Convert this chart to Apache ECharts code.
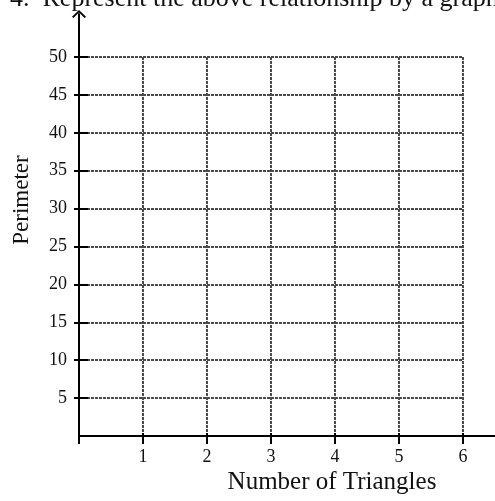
<!DOCTYPE html>
<html>
<head>
<meta charset="utf-8">
<script src="https://cdn.jsdelivr.net/npm/echarts@6/dist/echarts.min.js"></script>
<style>
  html, body { margin: 0; padding: 0; background: #fff; }
  #chart_box { width: 495px; height: 501px; }
</style>
</head>
<body>
<div id="chart_box"></div>
<script>
// tick values shown on the blank graph
let xTicks = [1, 2, 3, 4, 5, 6];
let yTicks = [5, 10, 15, 20, 25, 30, 35, 40, 45, 50];
// nothing plotted yet - the worksheet grid is empty
let points = [];

let serif = 'Liberation Serif';
let gridLine = {
    show: true,
    lineStyle: {
        color: '#4a4a4a',
        width: 2,
        type: [3, 1]
    }
};
// open arrow head for the vertical axis (14 x 8 box, symbol keeps aspect)
let chevron = 'path://M0,6.8 L7,0 L14,6.8 L12.6,8 L7,2.4 L1.4,8 Z';

let myChart = echarts.init(document.getElementById('chart_box'), null, { renderer: 'canvas' });

let myOption = {
    animation: false,
    title: [
        {
            text: '4.  Represent the above relationship by a graph.',
            left: 10,
            top: -14,
            padding: 0,
            textStyle: { fontFamily: serif, fontSize: 26, fontWeight: 'normal', color: '#111' }
        },
        {
            text: 'Number of Triangles',
            left: 332,
            top: 470,
            textAlign: 'center',
            padding: 0,
            textStyle: { fontFamily: serif, fontSize: 25, fontWeight: 'normal', color: '#111' }
        }
    ],
    graphic: [
        {
            type: 'text',
            x: 22,
            y: 200,
            rotation: Math.PI / 2,
            style: {
                text: 'Perimeter',
                font: '23px "Liberation Serif"',
                fill: '#111',
                align: 'center',
                verticalAlign: 'middle'
            }
        }
    ],
    grid: [
        // the plotting area, 0..6 by 0..50
        { left: 79, right: 32, top: 57, bottom: 65 },
        // the longer axis lines with the arrow
        { left: 79, right: 0, top: 14, bottom: 65 }
    ],
    xAxis: [
        {
            gridIndex: 0,
            type: 'value',
            min: 0,
            max: 6,
            interval: 1,
            axisLine: { show: false },
            axisTick: { show: true, inside: false, length: 8, lineStyle: { color: '#000', width: 2 } },
            axisLabel: {
                margin: 12,
                fontFamily: serif,
                fontSize: 18,
                color: '#111',
                formatter: function (v) { return xTicks.indexOf(v) >= 0 ? String(v) : ''; }
            },
            splitLine: gridLine
        },
        {
            gridIndex: 1,
            type: 'value',
            min: 0,
            max: 6.5,
            axisLine: { show: true, lineStyle: { color: '#000', width: 2 } },
            axisTick: { show: true, inside: true, length: 3, customValues: xTicks, lineStyle: { color: '#000', width: 2 } },
            axisLabel: { show: false },
            splitLine: { show: false }
        }
    ],
    yAxis: [
        {
            gridIndex: 0,
            type: 'value',
            min: 0,
            max: 50,
            interval: 5,
            axisLine: { show: false },
            axisTick: { show: true, inside: true, length: 9, lineStyle: { color: '#000', width: 2 } },
            axisLabel: {
                margin: 12,
                fontFamily: serif,
                fontSize: 18,
                color: '#111',
                formatter: function (v) { return yTicks.indexOf(v) >= 0 ? String(v) : ''; }
            },
            splitLine: gridLine
        },
        {
            gridIndex: 1,
            type: 'value',
            min: 0,
            max: 422 / 379 * 50,
            axisLine: {
                show: true,
                symbol: ['none', chevron],
                symbolSize: [14, 8],
                lineStyle: { color: '#000', width: 2 }
            },
            axisTick: { show: true, inside: false, length: 5, customValues: yTicks, lineStyle: { color: '#000', width: 2 } },
            axisLabel: { show: false },
            splitLine: { show: false }
        }
    ],
    series: [
        {
            name: 'Perimeter',
            type: 'scatter',
            xAxisIndex: 0,
            yAxisIndex: 0,
            data: points
        }
    ]
};

myChart.setOption(myOption);
</script>
</body>
</html>
